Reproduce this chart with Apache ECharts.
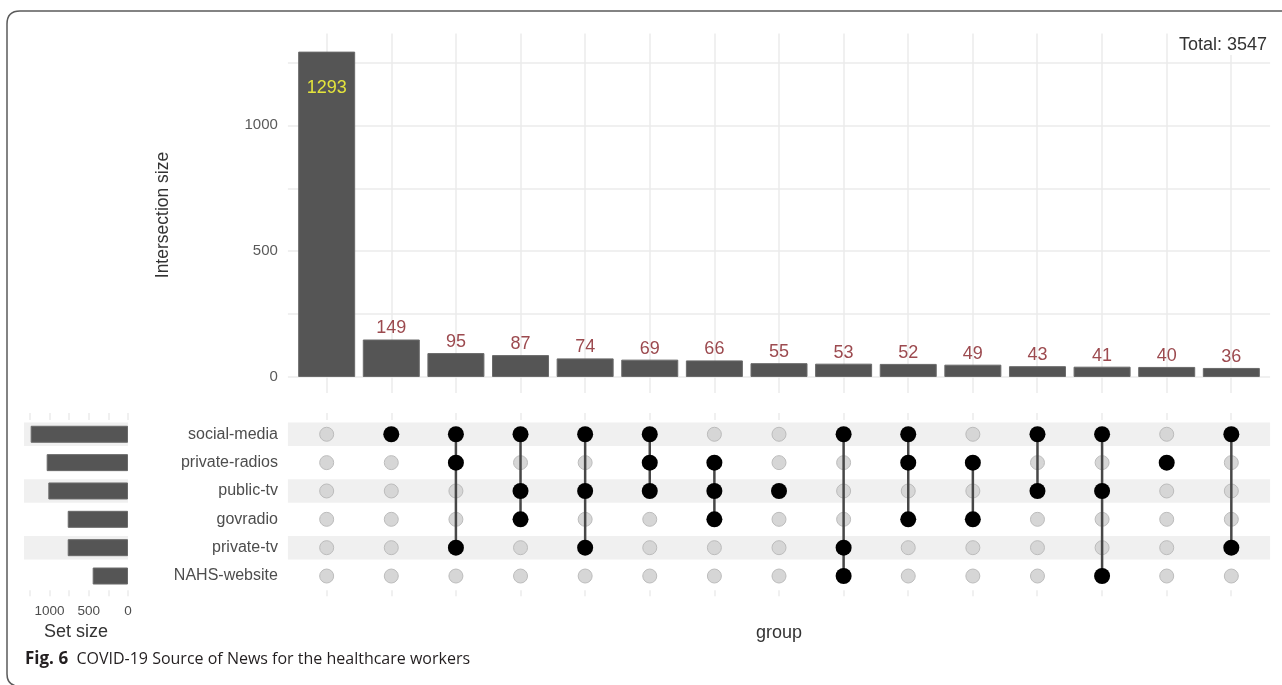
<!DOCTYPE html>
<html><head><meta charset="utf-8">
<script src="https://cdn.jsdelivr.net/npm/echarts@6/dist/echarts.min.js"></script>
<style>html,body{margin:0;padding:0;background:#fff}#c{width:1282px;height:685px}</style>
</head><body><div id="c"></div>
<script>
// ---------- data ----------
const sets = ['social-media', 'private-radios', 'public-tv', 'govradio', 'private-tv', 'NAHS-website'];
const setSizes = [1240, 1036, 1015, 768, 768, 450];
const intersectionSizes = [1293, 149, 95, 87, 74, 69, 66, 55, 53, 52, 49, 43, 41, 40, 36];
const intersectionMembers = [
  [],
  ['social-media'],
  ['social-media', 'private-radios', 'private-tv'],
  ['social-media', 'public-tv', 'govradio'],
  ['social-media', 'public-tv', 'private-tv'],
  ['social-media', 'private-radios', 'public-tv'],
  ['private-radios', 'public-tv', 'govradio'],
  ['public-tv'],
  ['social-media', 'private-tv', 'NAHS-website'],
  ['social-media', 'private-radios', 'govradio'],
  ['private-radios', 'govradio'],
  ['social-media', 'public-tv'],
  ['social-media', 'public-tv', 'NAHS-website'],
  ['private-radios'],
  ['social-media', 'private-tv']
];
const intersectionTicks = [0, 500, 1000];
const setSizeTicks = [0, 500, 1000];
const totalCount = 3547;

// ---------- build ----------
const FONT = '"Liberation Sans", Arial, sans-serif';
const GRID = '#ebebeb';
const colCats = intersectionSizes.map((_, i) => String(i + 1));
const barData = intersectionSizes.map((v, i) => i === 0
  ? { value: [i + 1, v], label: { position: 'insideTop', distance: 27, color: '#e4e43c' } }
  : [i + 1, v]);

const greyDots = [], blackDots = [], links = [];
intersectionMembers.forEach((mem, c) => {
  const rows = mem.map(s => sets.indexOf(s));
  sets.forEach((s, r) => { if (!rows.includes(r)) greyDots.push([c + 1, r]); });
  rows.forEach(r => blackDots.push([c + 1, r]));
  if (rows.length > 1) links.push([c + 1, Math.min(...rows), Math.max(...rows)]);
});
const stripeRows = sets.map((s, i) => [0, i]).filter((d, i) => i % 2 === 0);

function stripe(params, api) {
  const y = api.coord([0, api.value(1)])[1];
  const cs = params.coordSys;
  return { type: 'rect', silent: true, shape: { x: cs.x, y: y - 11.75, width: cs.width, height: 23.5 }, style: { fill: '#f0f0f0' } };
}

const hidden = { axisLine: { show: false }, axisTick: { show: false }, axisLabel: { show: false } };
const vline = { show: true, interval: 0, lineStyle: { color: GRID, width: 1.5 } };
const frameStyle = { fill: null, stroke: '#5a5a5a', lineWidth: 1.5 };

const option = {
  animation: false,
  grid: [
    { left: 287.9, top: 33.5, width: 982.2, height: 343.5 },   // 0 bars
    { left: 326.7, top: 33.5, width: 904.3, height: 359.5 },   // 1 vertical grid lines (bars)
    { left: 326.7, top: 413, width: 904.3, height: 7.1 },      // 2 matrix top stubs
    { left: 326.7, top: 590.2, width: 904.3, height: 6 },      // 3 matrix bottom stubs
    { left: 287.9, top: 420.1, width: 982.2, height: 170.1 },  // 4 matrix
    { left: 24, top: 420.1, width: 104, height: 170.1 },       // 5 set size
    { left: 24, top: 413, width: 104, height: 7.1 },           // 6 stubs
    { left: 24, top: 590.2, width: 104, height: 6 }            // 7 stubs
  ],
  xAxis: [
    { gridIndex: 0, type: 'value', min: 0.4, max: 15.6, show: false },
    Object.assign({ gridIndex: 1, type: 'category', data: colCats, boundaryGap: false, splitLine: vline }, hidden),
    Object.assign({ gridIndex: 2, type: 'category', data: colCats, boundaryGap: false, splitLine: vline }, hidden),
    Object.assign({ gridIndex: 3, type: 'category', data: colCats, boundaryGap: false, splitLine: vline }, hidden),
    Object.assign({ gridIndex: 4, type: 'value', min: 0.4, max: 15.6, splitLine: { show: false },
      name: 'group', nameLocation: 'middle', nameGap: 34,
      nameTextStyle: { fontFamily: FONT, fontSize: 18, color: '#333' } }, hidden),
    { gridIndex: 5, type: 'value', inverse: true, min: 0, max: 1325, interval: 250,
      axisLine: { show: false }, axisTick: { show: false }, splitLine: { show: false },
      axisLabel: { margin: 14, fontFamily: FONT, fontSize: 13.5, color: '#4d4d4d',
        formatter: v => setSizeTicks.includes(v) ? String(v) : '' },
      name: 'Set size', nameLocation: 'middle', nameGap: 33,
      nameTextStyle: { fontFamily: FONT, fontSize: 18, color: '#333' } },
    Object.assign({ gridIndex: 6, type: 'value', inverse: true, min: 0, max: 1325, interval: 250,
      splitLine: { show: true, showMaxLine: false, lineStyle: { color: GRID, width: 1.5 } } }, hidden),
    Object.assign({ gridIndex: 7, type: 'value', inverse: true, min: 0, max: 1325, interval: 250,
      splitLine: { show: true, showMaxLine: false, lineStyle: { color: GRID, width: 1.5 } } }, hidden)
  ],
  yAxis: [
    { gridIndex: 0, type: 'value', min: 0, max: 1365, interval: 250,
      axisLine: { show: false }, axisTick: { show: false },
      axisLabel: { margin: 10, fontFamily: FONT, fontSize: 15, color: '#5a5a5a',
        formatter: v => intersectionTicks.includes(v) ? String(v) : '' },
      splitLine: { show: true, showMaxLine: false, lineStyle: { color: GRID, width: 1.5 } } },
    { gridIndex: 1, type: 'value', show: false },
    { gridIndex: 2, type: 'value', show: false },
    { gridIndex: 3, type: 'value', show: false },
    { gridIndex: 4, type: 'category', data: sets, inverse: true,
      axisLine: { show: false }, axisTick: { show: false }, splitLine: { show: false },
      axisLabel: { margin: 10, fontFamily: FONT, fontSize: 16, color: '#4d4d4d' } },
    { gridIndex: 5, type: 'category', data: sets, inverse: true, show: false },
    { gridIndex: 6, type: 'value', show: false },
    { gridIndex: 7, type: 'value', show: false }
  ],
  series: [
    { type: 'bar', xAxisIndex: 0, yAxisIndex: 0, data: barData, barWidth: 57, silent: true,
      itemStyle: { color: '#555555', borderColor: '#6a6a6a', borderWidth: 1 },
      label: { show: true, position: 'top', distance: 2, fontFamily: FONT, fontSize: 18, color: '#9c4a4f',
        formatter: p => String(p.value[1]) } },
    { type: 'custom', xAxisIndex: 4, yAxisIndex: 4, data: stripeRows, renderItem: stripe, z: 1, silent: true },
    { type: 'scatter', xAxisIndex: 4, yAxisIndex: 4, data: greyDots, symbolSize: 14, z: 2, silent: true,
      itemStyle: { color: '#d6d6d6', borderColor: '#bcbcbc', borderWidth: 1, opacity: 1 } },
    { type: 'custom', xAxisIndex: 4, yAxisIndex: 4, data: links, z: 3, silent: true,
      encode: { x: 0, y: [1, 2] },
      renderItem: (params, api) => {
        const a = api.coord([api.value(0), api.value(1)]);
        const b = api.coord([api.value(0), api.value(2)]);
        return { type: 'line', shape: { x1: a[0], y1: a[1], x2: b[0], y2: b[1] },
          style: { stroke: '#474747', lineWidth: 2.5 } };
      } },
    { type: 'scatter', xAxisIndex: 4, yAxisIndex: 4, data: blackDots, symbolSize: 16, z: 4, silent: true,
      itemStyle: { color: '#000', opacity: 1 } },
    { type: 'custom', xAxisIndex: 5, yAxisIndex: 5, data: stripeRows, renderItem: stripe, z: 1, silent: true },
    { type: 'bar', xAxisIndex: 5, yAxisIndex: 5, data: setSizes, barWidth: 17, z: 3, silent: true,
      itemStyle: { color: '#555555', borderColor: '#6a6a6a', borderWidth: 1 } }
  ],
  graphic: [
    { type: 'line', silent: true, shape: { x1: 20, y1: 11, x2: 1282, y2: 11 }, style: frameStyle },
    { type: 'line', silent: true, shape: { x1: 7, y1: 24, x2: 7, y2: 674 }, style: frameStyle },
    { type: 'bezierCurve', silent: true, shape: { x1: 7, y1: 24, x2: 20, y2: 11, cpx1: 7, cpy1: 11 }, style: frameStyle },
    { type: 'bezierCurve', silent: true, shape: { x1: 7, y1: 674, x2: 16, y2: 686, cpx1: 7, cpy1: 684 }, style: frameStyle },
    { type: 'text', x: 163, y: 215, rotation: Math.PI / 2, silent: true,
      style: { text: 'Intersection size', fontFamily: FONT, fontSize: 17.5, fill: '#333', align: 'center', verticalAlign: 'middle' } },
    { type: 'text', x: 1267, y: 45, silent: true, z: 100,
      style: { text: 'Total: ' + totalCount, fontFamily: FONT, fontSize: 18, fill: '#333', align: 'right', verticalAlign: 'middle',
        backgroundColor: '#fff', padding: [1, 0, 1, 2] } },
    { type: 'text', x: 25, y: 659, silent: true,
      style: { text: '{b|Fig. 6}  COVID-19 Source of News for the healthcare workers',
        fontFamily: '"Open Sans", sans-serif', fontSize: 16, fill: '#231f20', verticalAlign: 'middle',
        rich: { b: { fontFamily: '"Open Sans", sans-serif', fontWeight: 'bold', fontSize: 17, fill: '#231f20' } } } }
  ]
};
echarts.init(document.getElementById('c')).setOption(option);
</script>
</body></html>
